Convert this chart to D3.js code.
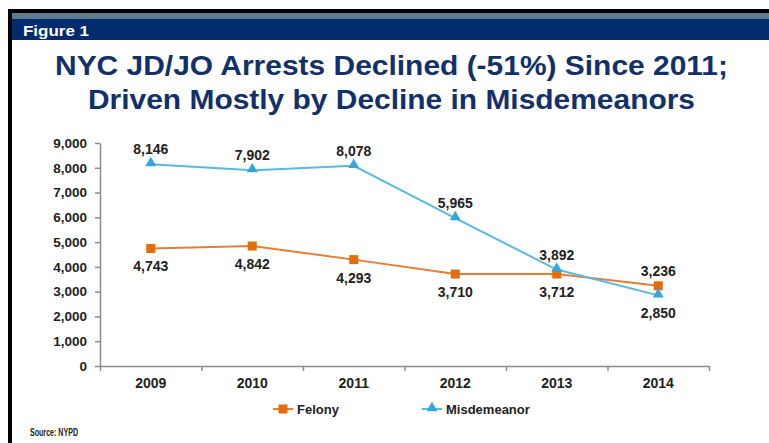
<html>
<head>
<style>
  body { margin: 0; background: white; }
  svg { display: block; font-family: Arial, "Liberation Sans", Helvetica, sans-serif; }
</style>
<script src="https://d3js.org/d3.v7.min.js"></script>
</head>
<body>
<svg id="chart"></svg>
<script>
  // chart values
  let years = ["2009", "2010", "2011", "2012", "2013", "2014"];
  let felony = [4743, 4842, 4293, 3710, 3712, 3236];
  let misdemeanor = [8146, 7902, 8078, 5965, 3892, 2850];
  let yTicks = [0, 1000, 2000, 3000, 4000, 5000, 6000, 7000, 8000, 9000];
  let titleLines = ["NYC JD/JO Arrests Declined (-51%) Since 2011;", "Driven Mostly by Decline in Misdemeanors"];

  let width = 769, height = 443;
  let svg = d3.select("#chart").attr("width", width).attr("height", height);

  // frame and header bar
  svg.append("rect").attr("x", 8).attr("y", 9).attr("width", width - 8).attr("height", 4).attr("fill", "#000");
  svg.append("rect").attr("x", 8).attr("y", 9).attr("width", 4).attr("height", height - 9).attr("fill", "#000");
  svg.append("rect").attr("x", 12).attr("y", 13).attr("width", width - 12).attr("height", 6).attr("fill", "#5e7b8e");
  svg.append("rect").attr("x", 12).attr("y", 19).attr("width", width - 12).attr("height", 21).attr("fill", "#002b6d");
  svg.append("text").attr("x", 23).attr("y", 36)
    .attr("font-size", 15).attr("font-weight", "bold").attr("fill", "white")
    .attr("textLength", 66).attr("lengthAdjust", "spacingAndGlyphs")
    .text("Figure 1");

  // title
  let titleWidths = [673, 607];
  svg.selectAll(".title").data(titleLines).enter().append("text")
    .attr("class", "title")
    .attr("x", 391.5)
    .attr("y", (d, i) => 75 + i * 34)
    .attr("text-anchor", "middle")
    .attr("font-size", 28).attr("font-weight", "bold").attr("fill", "#12306b")
    .attr("textLength", (d, i) => titleWidths[i]).attr("lengthAdjust", "spacingAndGlyphs")
    .text(d => d);

  // scales
  let plotLeft = 100, plotRight = 709, plotTop = 143, plotBottom = 366;
  let x = d3.scaleBand().domain(years).range([plotLeft, plotRight]);
  let xEdges = d3.scaleLinear().domain([0, years.length]).range([plotLeft, plotRight]);
  let y = d3.scaleLinear().domain([0, 9000]).range([plotBottom, plotTop]);

  let axisColor = "#8c8c8c";

  // y axis
  let yAxis = svg.append("g").attr("transform", `translate(${plotLeft},0)`)
    .call(d3.axisLeft(y).tickValues(yTicks).tickSize(5).tickSizeOuter(0).tickPadding(8).tickFormat(d3.format(",")));
  yAxis.selectAll("path, line").attr("stroke", axisColor).attr("stroke-width", 1.5);
  yAxis.selectAll("text").attr("font-size", 13.5).attr("font-weight", "bold").attr("fill", "#222");
  yAxis.attr("font-family", null).attr("font-size", null);

  // x axis boundary ticks
  let xTickAxis = svg.append("g").attr("transform", `translate(0,${plotBottom})`)
    .call(d3.axisBottom(xEdges).tickValues(d3.range(years.length + 1)).tickSize(5).tickSizeOuter(0).tickFormat(""));
  xTickAxis.selectAll("path, line").attr("stroke", axisColor).attr("stroke-width", 1.5);

  // x axis labels
  let xAxis = svg.append("g").attr("transform", `translate(0,${plotBottom})`)
    .call(d3.axisBottom(x).tickSize(0).tickPadding(12));
  xAxis.select("path").remove();
  xAxis.selectAll("text").attr("font-size", 14).attr("font-weight", "bold").attr("fill", "#222");
  xAxis.attr("font-family", null).attr("font-size", null);

  let series = [
    { name: "Felony", values: felony, other: misdemeanor, color: "#e46c0a", line: "#ea7d34", marker: "square" },
    { name: "Misdemeanor", values: misdemeanor, other: felony, color: "#35a6dc", line: "#5ab9e4", marker: "triangle" }
  ];

  let lineGen = d3.line()
    .x((d, i) => x(years[i]) + x.bandwidth() / 2)
    .y(d => y(d));

  function drawMarker(g, type, color) {
    if (type === "square") {
      g.append("rect").attr("x", -4.5).attr("y", -4.5).attr("width", 9).attr("height", 9).attr("fill", color);
    } else {
      g.append("path").attr("d", d3.symbol(d3.symbolTriangle, 52)()).attr("transform", "translate(0,-1)").attr("fill", color);
    }
  }

  series.forEach(s => {
    svg.append("path").datum(s.values)
      .attr("d", lineGen)
      .attr("fill", "none")
      .attr("stroke", s.line)
      .attr("stroke-width", 2);
  });

  series.forEach(s => {
    s.values.forEach((v, i) => {
      let g = svg.append("g")
        .attr("transform", `translate(${x(years[i]) + x.bandwidth() / 2},${y(v)})`);
      drawMarker(g, s.marker, s.color);
      let above = v > s.other[i];
      g.append("text")
        .attr("y", above ? -10 : 23)
        .attr("text-anchor", "middle")
        .attr("font-size", 14).attr("font-weight", "bold").attr("fill", "#222")
        .text(d3.format(",")(v));
    });
  });

  // legend
  let legendX = [273, 422];
  let legendY = 409;
  series.forEach((s, i) => {
    let g = svg.append("g").attr("transform", `translate(${legendX[i]},${legendY})`);
    g.append("line").attr("x1", 0).attr("x2", 20).attr("y1", 0).attr("y2", 0)
      .attr("stroke", s.line).attr("stroke-width", 2);
    let m = g.append("g").attr("transform", "translate(10,0)");
    drawMarker(m, s.marker, s.color);
    g.append("text").attr("x", 24).attr("y", 5)
      .attr("font-size", 13).attr("font-weight", "bold").attr("fill", "#222")
      .text(s.name);
  });

  // source
  svg.append("text").attr("x", 30).attr("y", 436)
    .attr("font-size", 10).attr("font-weight", "bold").attr("fill", "#222")
    .attr("textLength", 48).attr("lengthAdjust", "spacingAndGlyphs")
    .text("Source: NYPD");
</script>
</body>
</html>
